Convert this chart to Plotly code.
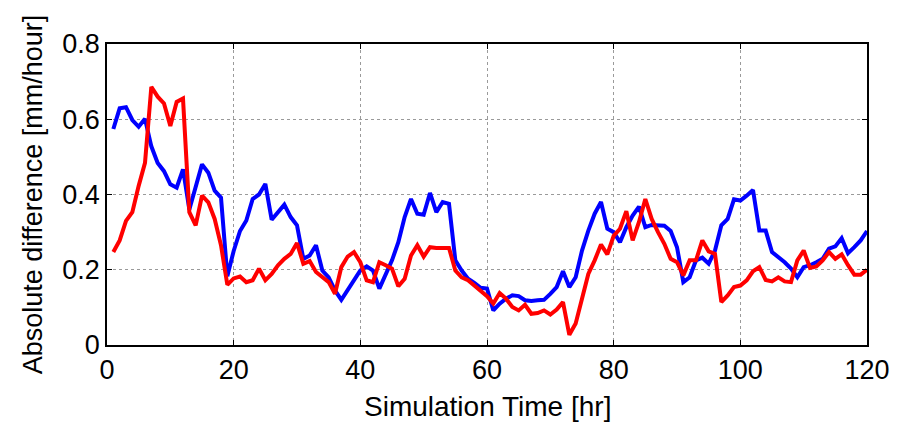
import plotly.graph_objects as go

hours = list(range(1, 121))

blue_vals = [
    0.574, 0.629, 0.632, 0.598, 0.580, 0.601, 0.528, 0.484, 0.462, 0.427,
    0.418, 0.467, 0.360, 0.420, 0.480, 0.458, 0.410, 0.392, 0.183, 0.250,
    0.303, 0.331, 0.388, 0.400, 0.428, 0.333, 0.353, 0.373, 0.340, 0.318,
    0.229, 0.238, 0.265, 0.198, 0.180, 0.145, 0.120, 0.145, 0.172, 0.198,
    0.209, 0.198, 0.150, 0.185, 0.225, 0.273, 0.340, 0.388, 0.349, 0.346,
    0.404, 0.353, 0.380, 0.375, 0.225, 0.198, 0.176, 0.165, 0.152, 0.150,
    0.092, 0.110, 0.123, 0.132, 0.130, 0.119, 0.117, 0.119, 0.120, 0.136,
    0.154, 0.196, 0.154, 0.180, 0.251, 0.304, 0.349, 0.380, 0.309, 0.300,
    0.273, 0.313, 0.344, 0.368, 0.313, 0.319, 0.318, 0.317, 0.303, 0.260,
    0.167, 0.180, 0.225, 0.232, 0.216, 0.251, 0.318, 0.335, 0.387, 0.384,
    0.397, 0.412, 0.304, 0.304, 0.247, 0.235, 0.220, 0.203, 0.180, 0.207,
    0.212, 0.220, 0.229, 0.256, 0.262, 0.284, 0.244, 0.260, 0.278, 0.303,
]

red_vals = [
    0.247, 0.278, 0.330, 0.353, 0.423, 0.484, 0.686, 0.660, 0.642, 0.582,
    0.646, 0.655, 0.353, 0.318, 0.397, 0.379, 0.335, 0.265, 0.160, 0.177,
    0.182, 0.167, 0.172, 0.203, 0.172, 0.189, 0.212, 0.229, 0.242, 0.271,
    0.216, 0.223, 0.194, 0.181, 0.167, 0.136, 0.207, 0.235, 0.247, 0.220,
    0.172, 0.167, 0.220, 0.212, 0.203, 0.156, 0.176, 0.238, 0.265, 0.235,
    0.260, 0.258, 0.258, 0.258, 0.198, 0.180, 0.172, 0.158, 0.145, 0.130,
    0.110, 0.138, 0.123, 0.101, 0.092, 0.107, 0.083, 0.085, 0.092, 0.081,
    0.094, 0.114, 0.027, 0.057, 0.123, 0.189, 0.225, 0.267, 0.241, 0.290,
    0.309, 0.356, 0.278, 0.327, 0.388, 0.335, 0.300, 0.269, 0.229, 0.220,
    0.185, 0.225, 0.225, 0.278, 0.249, 0.242, 0.114, 0.132, 0.154, 0.158,
    0.172, 0.196, 0.207, 0.173, 0.169, 0.180, 0.169, 0.167, 0.225, 0.251,
    0.205, 0.209, 0.225, 0.247, 0.229, 0.241, 0.212, 0.187, 0.187, 0.200,
]

x_ticks = [0, 20, 40, 60, 80, 100, 120]
y_ticks = [0, 0.2, 0.4, 0.6, 0.8]
y_tick_text = ["0", "0.2", "0.4", "0.6", "0.8"]
x_title = "Simulation Time [hr]"
y_title = "Absolute difference [mm/hour]"

fig = go.Figure()
fig.add_trace(go.Scatter(x=hours, y=blue_vals, mode="lines",
                         line=dict(color="#0000FF", width=4), showlegend=False))
fig.add_trace(go.Scatter(x=hours, y=red_vals, mode="lines",
                         line=dict(color="#FF0000", width=4), showlegend=False))

FONT = "Liberation Sans, Arial, sans-serif"

fig.update_layout(
    width=902, height=422,
    margin=dict(l=107, r=32, t=44, b=77),
    paper_bgcolor="white", plot_bgcolor="white",
    font=dict(family=FONT, size=27, color="black"),
)
fig.update_xaxes(
    range=[0, 120], tickvals=x_ticks, ticktext=[str(v) for v in x_ticks],
    showline=True, linecolor="black", linewidth=1.5, mirror="ticks",
    ticks="inside", ticklen=5, tickcolor="black", tickwidth=1,
    showgrid=True, gridcolor="#9a9a9a", griddash="dot", gridwidth=1,
    zeroline=False, tickfont=dict(size=27),
)
fig.update_yaxes(
    range=[0, 0.8], tickvals=y_ticks, ticktext=y_tick_text,
    showline=True, linecolor="black", linewidth=1.5, mirror="ticks",
    ticks="inside", ticklen=5, tickcolor="black", tickwidth=1,
    showgrid=True, gridcolor="#9a9a9a", griddash="dot", gridwidth=1,
    zeroline=False, tickfont=dict(size=27),
    title=dict(text=y_title, font=dict(size=27), standoff=12),
)
fig.add_annotation(
    text=x_title, xref="paper", yref="paper", x=0.5, y=0,
    xanchor="center", yanchor="top", yshift=-44, showarrow=False,
    font=dict(family=FONT, size=28, color="black"),
)

fig.write_html("out.html",
               config={"displayModeBar": False},
               post_script="document.body.style.margin='0';document.body.style.padding='0';")
